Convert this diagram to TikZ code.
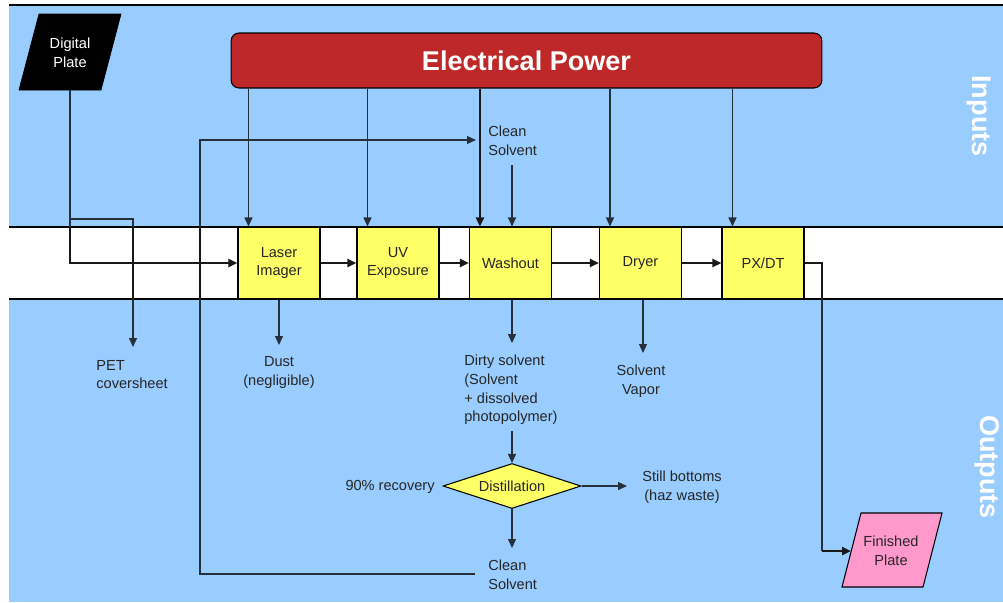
\documentclass[tikz,border=0pt]{standalone}
\usepackage{fontspec}
\setmainfont{Liberation Sans}
\usetikzlibrary{arrows.meta,shapes.geometric}

\definecolor{laneblue}{HTML}{99CCFF}
\definecolor{procyellow}{HTML}{FFFF66}
\definecolor{powerred}{HTML}{BE2828}
\definecolor{platepink}{HTML}{FF99CC}
\definecolor{wire}{HTML}{26303A}

\begin{document}
\begin{tikzpicture}[x=0.02cm,y=-0.02cm,
  txt/.style={font=\fontsize{8.3}{10.6}\selectfont,text=black!85,align=center,inner sep=0pt},
  proc/.style={txt,draw=black,line width=0.6pt,fill=procyellow,
    minimum width=1.64cm,minimum height=1.44cm},
  lanetxt/.style={font=\fontsize{15.4}{18}\selectfont\bfseries,text=white,inner sep=0pt},
  thinw/.style={draw=wire,line width=0.7pt},
  bandw/.style={draw=black!90,line width=1.4pt},
  tip/.style={-{Triangle[length=0.18cm,width=0.16cm]}}]

\useasboundingbox (0,0) rectangle (1003,602);

% Lanes: inputs above, the process band, outputs below.
\fill[laneblue] (9,5) rectangle (1003,602);
\draw[black,line width=0.6pt] (9,5) -- (1003,5);
\fill[white] (9,227) rectangle (1003,299);
\draw[black,line width=0.6pt] (9,227) -- (1003,227) (9,299) -- (1003,299);
\coordinate (bandtop) at (0,227);
\coordinate (bandbot) at (0,299);

\node[lanetxt,rotate=-90] (inlane) at (979,116) {Inputs};
\node[lanetxt,rotate=-90] (outlane) at (987,467) {Outputs};

% Power bar.
\node[draw=black,line width=0.6pt,fill=powerred,rounded corners=0.16cm,
  minimum width=11.82cm,minimum height=1.1cm,lanetxt] (power) at (526.5,60.5)
  {Electrical Power};

% Digital plate, drawn as a parallelogram.
\filldraw[fill=black,draw=black] (39,14) -- (121,14) -- (101,90) -- (19,90) -- cycle;
\node[txt,text=white] (digital) at (70,52.5) {Digital\\Plate};
\coordinate (digitalout) at (70,90);

% Process steps.
\node[proc] (laser) at (279,263) {Laser\\Imager};
\node[proc] (uv) at (398,263) {UV\\Exposure};
\node[proc] (washout) at (510.5,263) {Washout};
\node[proc] (dryer) at (640.5,263) {Dryer};
\node[proc] (pxdt) at (763,263) {PX/DT};

\node[txt,draw=black,line width=0.6pt,fill=procyellow,shape=diamond,aspect=3,
  minimum width=2.76cm,minimum height=0.9cm] (distil) at (512,486) {Distillation};

% Finished plate.
\filldraw[fill=platepink,draw=black,line width=0.6pt]
  (861,513) -- (942,513) -- (923,587) -- (842,587) -- cycle;
\node[txt] (finished) at (891,550.5) {Finished\\Plate};
\coordinate (finishedin) at (851,551);

% Labels.
\node[txt,align=left,anchor=west] (pet) at (96,374.5) {PET\\coversheet};
\node[txt] (dust) at (279,372.5) {Dust\\(negligible)};
\node[txt,align=left,anchor=west] (dirty) at (464,390)
  {Dirty solvent\\(Solvent\\+ dissolved\\photopolymer)};
\node[txt] (vapor) at (641,381) {Solvent\\Vapor};
\node[txt,anchor=east] (recovery) at (435,487) {90\% recovery};
\node[txt] (bottoms) at (682,487.5) {Still bottoms\\(haz waste)};
\node[txt,align=left,anchor=west] (cleanbot) at (488,575) {Clean\\Solvent};
\node[txt,align=left,anchor=west] (cleantop) at (488,141) {Clean\\Solvent};

% Plate in, coversheet off.
\coordinate (split) at (70,219);
\coordinate (petturn) at (133,219);
\coordinate (pettip) at (133,347);
\draw[thinw] (digitalout) -- (split |- bandtop);
\draw[bandw,tip] (split |- bandtop) -- (split |- laser.west) -- (laser.west);
\draw[thinw] (split) -- (petturn) -- (petturn |- bandtop);
\draw[bandw] (petturn |- bandtop) -- (petturn |- bandbot);
\draw[thinw,tip] (petturn |- bandbot) -- (pettip);

% Power feeds.
\foreach \b in {laser,uv,dryer,pxdt}
  \draw[thinw,tip] ([xshift=0.22cm]\b.north west |- power.south)
    -- ([xshift=0.22cm]\b.north west);
\draw[bandw,tip] ([xshift=0.22cm]washout.north west |- power.south)
  -- ([xshift=0.22cm]washout.north west);

% Main flow.
\foreach \a/\b in {laser/uv,uv/washout,washout/dryer,dryer/pxdt}
  \draw[bandw,tip] (\a.east) -- (\b.west);

% Solvent loop.
\coordinate (cleandrop) at (512,165);
\coordinate (cleanret) at (475,574);
\coordinate (loopbot) at (200,574);
\coordinate (looptop) at (200,140);
\coordinate (cleantip) at (476,140);
\draw[thinw,tip] (cleandrop) -- (cleandrop |- washout.north);
\draw[thinw] (cleanret) -- (loopbot) -- (loopbot |- bandbot);
\draw[bandw] (loopbot |- bandbot) -- (loopbot |- bandtop);
\draw[thinw,tip] (loopbot |- bandtop) -- (looptop) -- (cleantip);

% Outputs.
\coordinate (dusttip) at (279,345);
\coordinate (dirtytip) at (512,343);
\coordinate (dirtyout) at (512,431);
\coordinate (vaportip) at (643,353);
\coordinate (bottomstip) at (627,486);
\coordinate (cleanbottip) at (512,548);
\draw[thinw,tip] (laser.south) -- (dusttip);
\draw[thinw,tip] (dirtytip |- washout.south) -- (dirtytip);
\draw[thinw,tip] (vaportip |- dryer.south) -- (vaportip);
\draw[thinw,tip] (dirtyout) -- (distil.north);
\draw[thinw,tip] (distil.east) -- (bottomstip);
\draw[thinw,tip] (distil.south) -- (cleanbottip);

% Finished plate out.
\coordinate (outturn) at (822,262);
\draw[bandw] (pxdt.east) -- (pxdt.east -| outturn) -- (outturn |- bandbot);
\draw[thinw] (outturn |- bandbot) -- (outturn |- finishedin);
\draw[bandw,tip] (outturn |- finishedin) -- (finishedin);

\end{tikzpicture}
\end{document}
